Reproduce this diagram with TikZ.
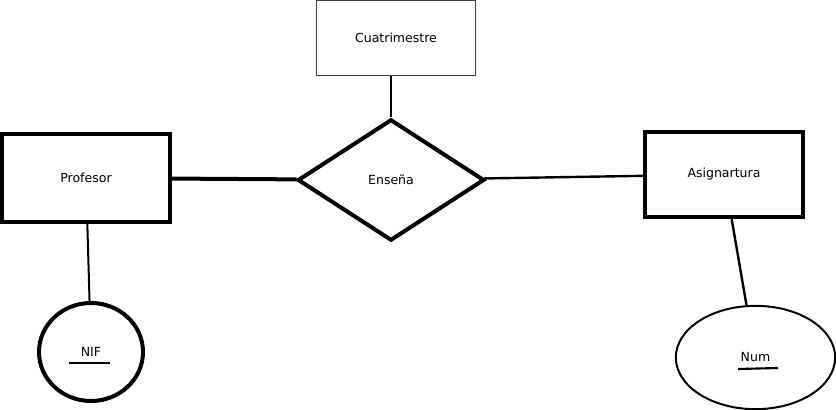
\documentclass[tikz,border=0pt]{standalone}
\usepackage{fontspec}
\setmainfont{DejaVu Sans}
\usetikzlibrary{shapes.geometric}
\tikzset{
  entidad/.style={draw, line width=3pt, inner sep=0pt},
  atributo/.style={draw, ellipse, inner sep=0pt},
  relacion/.style={draw, diamond, line width=3pt, inner sep=0pt, minimum width=140pt, minimum height=91pt},
}
\begin{document}
\begin{tikzpicture}[x=0.75pt, y=-0.75pt, font=\fontsize{9.4pt}{11pt}\selectfont]
\useasboundingbox (0,0) rectangle (836,410);
\node[draw, black!75, text=black, line width=0.8pt, minimum width=119.5pt, minimum height=56pt, inner sep=0pt] (cuat) at (396, 37.8) {Cuatrimestre};
\node[relacion] (ensena) at (391, 180) {Enseña};
\node[entidad, minimum width=126pt, minimum height=66pt] (prof) at (86, 178) {Profesor};
\node[entidad, minimum width=118.5pt, minimum height=64pt] (asig) at (724, 174.5) {Asignartura};
\node[atributo, line width=3pt, minimum width=78pt, minimum height=73.5pt] (nif) at (91, 352) {NIF};
\node[atributo, line width=1.5pt, minimum width=119.5pt, minimum height=77.5pt] (num) at (755.5, 357.5) {Num};
\draw[line width=1.5pt] (cuat.south -| ensena.north) -- (ensena.north);
\draw[line width=3pt] (prof) -- (ensena);
\draw[line width=1.8pt] (ensena) -- (asig);
\draw[line width=1.5pt] (prof) -- (nif);
\draw[line width=1.8pt] (asig) -- (num);
% subrayado de las claves
\draw[line width=1.6pt] (69, 363) -- (110, 363);
\draw[line width=1.6pt] (738, 369) -- (778, 368);
\end{tikzpicture}
\end{document}
